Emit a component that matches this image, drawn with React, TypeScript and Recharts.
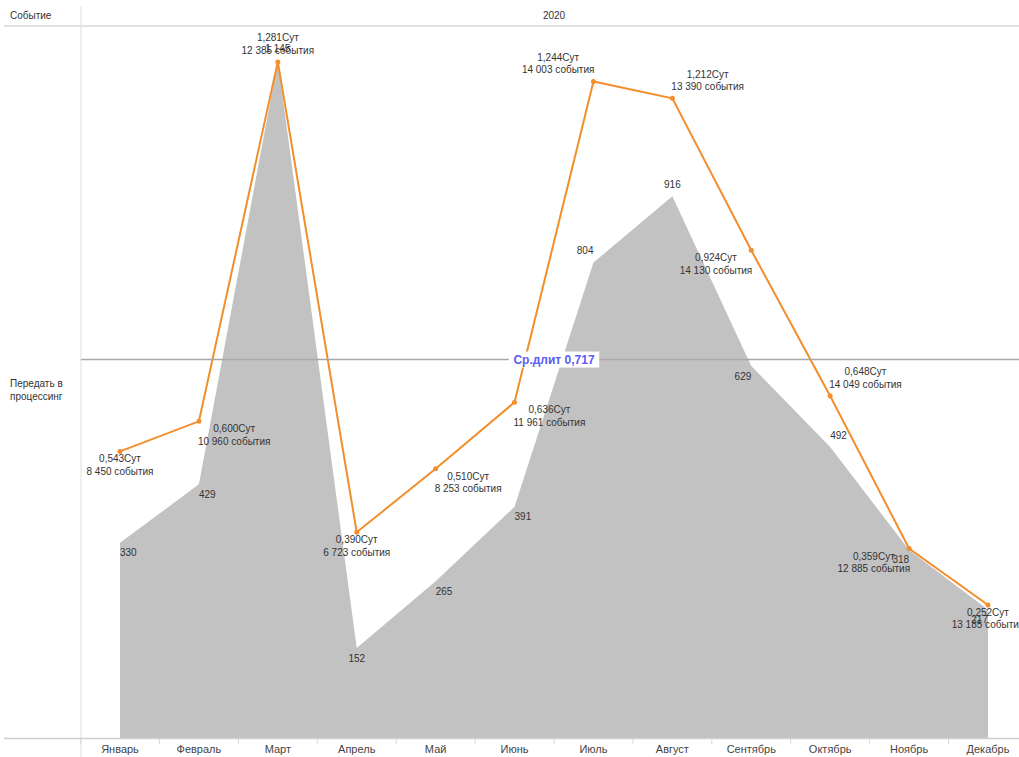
import React from 'react';
import { ComposedChart, Area, Line, XAxis, YAxis, ReferenceLine, LabelList } from 'recharts';

const months = ['Январь', 'Февраль', 'Март', 'Апрель', 'Май', 'Июнь', 'Июль', 'Август', 'Сентябрь', 'Октябрь', 'Ноябрь', 'Декабрь'];
const processingCounts = [330, 429, 1145, 152, 265, 391, 804, 916, 629, 492, 318, 217];
const avgDays = [0.543, 0.6, 1.281, 0.39, 0.51, 0.636, 1.244, 1.212, 0.924, 0.648, 0.359, 0.252];
const eventCounts = [8450, 10960, 12385, 6723, 8253, 11961, 14003, 13390, 14130, 14049, 12885, 13185];
const overallAvg = 0.717;
const yearLabel = '2020';
const rowHeader = 'Событие';
const rowLabelLines = ['Передать в', 'процессинг'];

const data = months.map((m, i) => ({ month: m, processed: processingCounts[i], days: avgDays[i] }));

const FONT = '"Liberation Sans", Arial, sans-serif';
const TEXT = '#333333';
const ORANGE = '#f28e2b';
const GRAY_AREA = '#c2c2c2';

const fmtInt = (n: number) => String(n).replace(/\B(?=(\d{3})+(?!\d))/g, ' ');
const fmtDays = (v: number) => v.toFixed(3).replace('.', ',') + 'Сут';

let ctx: CanvasRenderingContext2D | null = null;
function textWidth(s: string, size = 10) {
  if (!ctx) ctx = document.createElement('canvas').getContext('2d');
  if (!ctx) return s.length * size * 0.55;
  ctx.font = `${size}px "Liberation Sans", Arial, sans-serif`;
  return ctx.measureText(s).width;
}

// label placement: first char = below/top, second = right/left/center of the point
const LINE_PLACE = ['bc', 'br', 'tc', 'bc', 'br', 'br', 'tl', 'tr', 'bl', 'tr', 'bl', 'bc'];
const AREA_PLACE = ['br', 'br', 'tc', 'bc', 'br', 'br', 'tl', 'tc', 'bl', 'tr', 'bl', 'bl'];

const resolveIndex = (props: any, arr: number[]) => {
  if (typeof props.index === 'number') return props.index;
  return arr.indexOf(Number(props.value));
};

const LineLabel = (props: any) => {
  const { x, y } = props;
  const i = resolveIndex(props, avgDays);
  if (i < 0 || x == null || y == null) return null;
  const place = LINE_PLACE[i];
  const l1 = fmtDays(avgDays[i]);
  const l2 = fmtInt(eventCounts[i]) + ' события';
  const w = Math.max(textWidth(l1), textWidth(l2));
  let cx = x;
  if (place[1] === 'r') cx = x - 1 + w / 2;
  else if (place[1] === 'l') cx = x + 1 - w / 2;
  const y1 = place[0] === 'b' ? y + 7.5 : y - 24;
  const y2 = y1 + 12.5;
  const common = { textAnchor: 'middle' as const, dominantBaseline: 'central' as const, fontSize: 10, fill: TEXT, fontFamily: FONT };
  return (
    <g>
      <text x={cx} y={y1} {...common}>{l1}</text>
      <text x={cx} y={y2} {...common}>{l2}</text>
    </g>
  );
};

const AreaLabel = (props: any) => {
  const { x, y } = props;
  const i = resolveIndex(props, processingCounts);
  if (i < 0 || x == null || y == null) return null;
  const place = AREA_PLACE[i];
  const ty = place[0] === 'b' ? y + 10 : y - 12;
  const anchor = place[1] === 'r' ? 'start' : place[1] === 'l' ? 'end' : 'middle';
  return (
    <text x={x} y={ty} textAnchor={anchor} dominantBaseline="central" fontSize={10} fill={TEXT} fontFamily={FONT}>
      {fmtInt(processingCounts[i])}
    </text>
  );
};

const BAND_HALF = 39.45;

const MonthTick = (props: any) => {
  const { x, y, payload } = props;
  return (
    <g>
      <line x1={x - BAND_HALF} x2={x - BAND_HALF} y1={739} y2={744} stroke="#d8d8d8" strokeWidth={1} />
      <text x={x} y={749} textAnchor="middle" dominantBaseline="central" fontSize={11} fill="#444" fontFamily={FONT}>
        {payload.value}
      </text>
    </g>
  );
};

const RefLabel = (props: any) => {
  const vb = props.viewBox || {};
  const cx = vb.x + vb.width / 2;
  const cy = vb.y;
  const label = 'Ср.длит ' + overallAvg.toFixed(3).replace('.', ',');
  const w = textWidth(label, 12) * 1.08 + 6;
  return (
    <g>
      <rect x={cx - w / 2} y={cy - 8} width={w} height={16} fill="#ffffff" />
      <text x={cx} y={cy} textAnchor="middle" dominantBaseline="central" fontSize={12} fontWeight="bold" fill="#5b5bf5" fontFamily={FONT}>
        {label}
      </text>
    </g>
  );
};

export default function App() {
  return (
    <div style={{ position: 'fixed', left: 0, top: 0, width: 1019, height: 757, overflow: 'hidden', background: '#ffffff', fontFamily: FONT }}>
      <div style={{ position: 'absolute', left: 0, top: 0 }}>
        <ComposedChart width={1040} height={757} data={data} margin={{ top: 26, right: 12.5, bottom: 0, left: 80.5 }}>
          <XAxis
            dataKey="month"
            scale="point"
            padding={{ left: 39.5, right: 39.5 }}
            height={19}
            axisLine={false}
            tickLine={false}
            interval={0}
            tick={<MonthTick />}
          />
          <YAxis yAxisId="a" hide domain={[0, 1204]} />
          <YAxis yAxisId="l" orientation="right" hide domain={[0, 1.349]} />
          <Area
            yAxisId="a"
            type="linear"
            dataKey="processed"
            fill={GRAY_AREA}
            fillOpacity={1}
            stroke="none"
            isAnimationActive={false}
            activeDot={false}
          >
            <LabelList dataKey="processed" content={AreaLabel} />
          </Area>
          <Line
            yAxisId="l"
            type="linear"
            dataKey="days"
            stroke={ORANGE}
            strokeWidth={2}
            dot={{ r: 2.5, fill: ORANGE, stroke: 'none' }}
            activeDot={false}
            isAnimationActive={false}
          >
            <LabelList dataKey="days" content={LineLabel} />
          </Line>
          <ReferenceLine yAxisId="l" y={overallAvg} stroke="#a8a8a8" strokeWidth={1.5} label={<RefLabel />} />
        </ComposedChart>
      </div>
      <svg width={1019} height={757} style={{ position: 'absolute', left: 0, top: 0, pointerEvents: 'none' }}>
        <line x1={4} x2={1019} y1={26} y2={26} stroke="#d9d9d9" strokeWidth={1.5} />
        <line x1={81} x2={81} y1={6} y2={757} stroke="#dedede" strokeWidth={1} />
        <line x1={4} x2={1019} y1={738.5} y2={738.5} stroke="#cfcfcf" strokeWidth={1.5} />
        <text x={10} y={15} dominantBaseline="central" fontSize={10} fill={TEXT} fontFamily={FONT}>{rowHeader}</text>
        <text x={554} y={15} textAnchor="middle" dominantBaseline="central" fontSize={10} fill={TEXT} fontFamily={FONT}>{yearLabel}</text>
        {rowLabelLines.map((t, k) => (
          <text key={k} x={10} y={383 + k * 13} dominantBaseline="central" fontSize={10} fill={TEXT} fontFamily={FONT}>{t}</text>
        ))}
      </svg>
    </div>
  );
}
